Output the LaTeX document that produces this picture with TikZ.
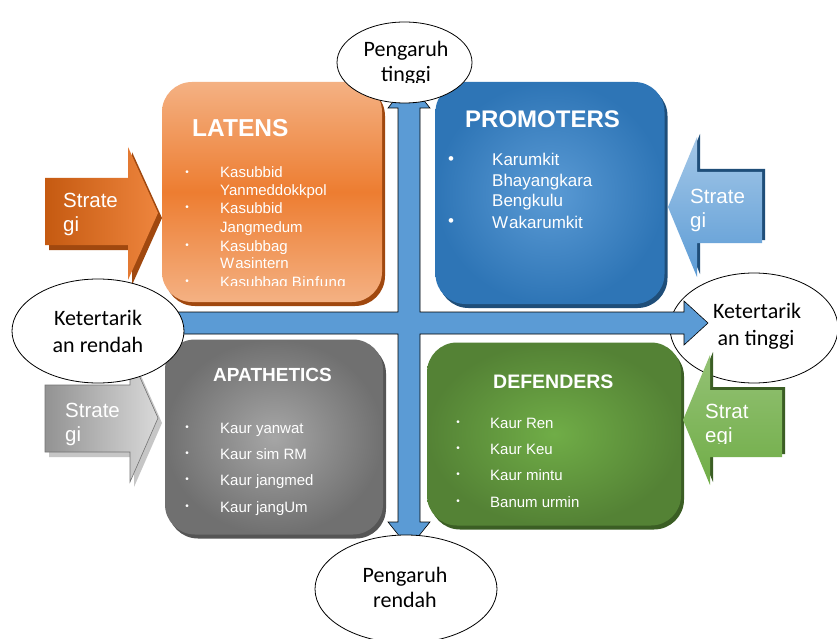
\documentclass[tikz,border=0pt]{standalone}
\usepackage{fontspec}
\setmainfont{Liberation Sans}
\newfontfamily\calib{Carlito}
\usetikzlibrary{shapes.geometric,shadows}
\definecolor{orM}{HTML}{ED7D31}
\definecolor{orL}{HTML}{F4B183}
\definecolor{orD}{HTML}{C55A11}
\definecolor{orS}{HTML}{A0480F}
\definecolor{blM}{HTML}{2E75B6}
\definecolor{blL}{HTML}{5B9BD5}
\definecolor{blS}{HTML}{1F4E79}
\definecolor{grM}{HTML}{707070}
\definecolor{grL}{HTML}{A6A6A6}
\definecolor{grS}{HTML}{555555}
\definecolor{gnM}{HTML}{548235}
\definecolor{gnL}{HTML}{70AD47}
\definecolor{gnS}{HTML}{3B5E24}
\definecolor{crossblue}{HTML}{5B9BD5}
\begin{document}
\begin{tikzpicture}[x=1pt,y=-1pt,
  quad/.style={rounded corners=30pt, inner sep=0pt},
  ttl/.style={text=white, anchor=base west, inner sep=0pt},
  itm/.style={text=white, anchor=base west, inner sep=0pt},
  bul/.style={text=white, inner sep=0pt},
  ell/.style={ellipse, draw=black, line width=0.8pt, fill=white, inner sep=0pt},
  etxt/.style={font=\calib\fontsize{22}{26}\selectfont, anchor=base, inner sep=0pt},
  stxt/.style={text=white, font=\fontsize{20.5}{24}\selectfont, anchor=base west, inner sep=0pt},
]
\path[use as bounding box, fill=white] (0,0) rectangle (837,639);

% ---- quadrant boxes ----
\node[quad, minimum width=220pt, minimum height=220pt, top color=orL, bottom color=orL, middle color=orM,
  drop shadow={shadow xshift=3pt, shadow yshift=-4pt, fill=orS, opacity=1}] (latens) at (272,192) {};
\node[quad, minimum width=229pt, minimum height=222pt, inner color=blL, outer color=blM,
  drop shadow={shadow xshift=3pt, shadow yshift=-4pt, fill=blS, opacity=1}] (promo) at (550,193) {};
\node[quad, minimum width=218pt, minimum height=195pt, inner color=grL, outer color=grM,
  drop shadow={shadow xshift=3pt, shadow yshift=-4pt, fill=grS, opacity=1}] (apath) at (274,437) {};
\node[quad, minimum width=254pt, minimum height=183pt, inner color=gnL, outer color=gnM,
  drop shadow={shadow xshift=3pt, shadow yshift=-4pt, fill=gnS, opacity=1}] (defend) at (554,434) {};

% ---- titles ----
\node[ttl, font=\bfseries\fontsize{24.5}{28}\selectfont] (tl) at (192,137) {LATENS};
\node[ttl, font=\bfseries\fontsize{24}{28}\selectfont] (tp) at (465,128) {PROMOTERS};
\node[ttl, font=\bfseries\fontsize{19}{22}\selectfont] (ta) at (213,381) {APATHETICS};
\node[ttl, font=\bfseries\fontsize{19.5}{22}\selectfont] (td) at (493,388) {DEFENDERS};

% ---- LATENS list ----
\begin{scope}[every node/.append style={font=\fontsize{15}{18}\selectfont}]
\clip (165,150) rectangle (380,285);
\node[itm] (l1) at (220,178) {Kasubbid};
\node[itm] (l2) at (220,195) {Yanmeddokkpol};
\node[itm] (l3) at (220,213) {Kasubbid};
\node[itm] (l4) at (220,232) {Jangmedum};
\node[itm] (l5) at (220,251) {Kasubbag};
\node[itm] (l6) at (220,268) {W\kern1pt asintern};
\node[itm] (l7) at (220,287) {Kasubbag B\kern0.5pt i\kern0.5pt n\kern0.5pt f\kern0.5pt u\kern0.5pt n\kern0.5pt g};
\node[bul, font=\fontsize{10}{10}\selectfont] (lb1) at (187,173) {•};
\node[bul, font=\fontsize{10}{10}\selectfont] (lb2) at (187,208) {•};
\node[bul, font=\fontsize{10}{10}\selectfont] (lb3) at (187,246) {•};
\node[bul, font=\fontsize{10}{10}\selectfont] (lb4) at (187,282) {•};
\end{scope}

% ---- PROMOTERS list ----
\begin{scope}[every node/.append style={font=\fontsize{17}{20}\selectfont}]
\node[itm] (p1) at (492,166) {Karumkit};
\node[itm] (p2) at (492,186) {Bhayangkara};
\node[itm] (p3) at (492,206) {Bengkulu};
\node[itm] (p4) at (492,228) {W\kern1pt akarumkit};
\node[bul] (pb1) at (451,161) {•};
\node[bul] (pb2) at (451,223) {•};
\end{scope}

% ---- APATHETICS list ----
\begin{scope}[every node/.append style={font=\fontsize{15}{18}\selectfont}]
\node[itm] (a1) at (220,433) {Kaur yanwat};
\node[itm] (a2) at (220,459) {Kaur sim RM};
\node[itm] (a3) at (220,485) {Kaur jangmed};
\node[itm] (a4) at (220,512) {Kaur jangUm};
\node[bul, font=\fontsize{10}{10}\selectfont] (ab1) at (187,428) {•};
\node[bul, font=\fontsize{10}{10}\selectfont] (ab2) at (187,454) {•};
\node[bul, font=\fontsize{10}{10}\selectfont] (ab3) at (187,480) {•};
\node[bul, font=\fontsize{10}{10}\selectfont] (ab4) at (187,507) {•};
\end{scope}

% ---- DEFENDERS list ----
\begin{scope}[every node/.append style={font=\fontsize{15}{18}\selectfont}]
\node[itm] (d1) at (490,428) {Kaur Ren};
\node[itm] (d2) at (490,454) {Kaur Keu};
\node[itm] (d3) at (490,480) {Kaur mintu};
\node[itm] (d4) at (490,507) {Banum urmin};
\node[bul, font=\fontsize{10}{10}\selectfont] (db1) at (458,423) {•};
\node[bul, font=\fontsize{10}{10}\selectfont] (db2) at (458,449) {•};
\node[bul, font=\fontsize{10}{10}\selectfont] (db3) at (458,475) {•};
\node[bul, font=\fontsize{10}{10}\selectfont] (db4) at (458,502) {•};
\end{scope}

% ---- right ellipse (under the cross) ----
\node[ell, minimum width=168pt, minimum height=110pt] (eR) at (754,328) {};
\node[etxt] (eRt1) at (757,318) {Ketertarik};
\node[etxt] (eRt2) at (756,345) {an tinggi};

% ---- cross (quad arrow) ----
\draw[fill=crossblue, draw=black, line width=0.6pt, line join=miter]
  (409,82) -- (430,108) -- (420,108) -- (420,312) -- (684,312) -- (684,301) -- (708,323)
  -- (684,345) -- (684,334) -- (420,334) -- (420,522) -- (430,522) -- (409,548)
  -- (388,522) -- (398,522) -- (398,334) -- (150,334) -- (150,345) -- (125,323)
  -- (150,301) -- (150,312) -- (398,312) -- (398,108) -- (388,108) -- cycle;

% ---- strategy arrows ----
% orange (left, pointing right)
\fill[orS, shift={(4,5)}] (45,178) -- (128,178) -- (128,147) -- (158,213) -- (128,280) -- (128,245) -- (45,245) -- cycle;
\shade[left color=orD, right color=orM!85!orL] (45,178) -- (128,178) -- (128,147) -- (158,213) -- (128,280) -- (128,245) -- (45,245) -- cycle;
\node[stxt] (s1a) at (63,207) {Strate};
\node[stxt] (s1b) at (63,231) {gi};
% blue (right, pointing left)
\fill[blS, shift={(3,-3)}] (762,172) -- (697,172) -- (697,137) -- (668,207) -- (697,277) -- (697,243) -- (762,243) -- cycle;
\shade[top color=blL!55!white, bottom color=blL] (762,172) -- (697,172) -- (697,137) -- (668,207) -- (697,277) -- (697,243) -- (762,243) -- cycle;
\node[stxt] (s2a) at (690,203) {Strate};
\node[stxt] (s2b) at (690,227) {gi};
% gray (left, pointing right)
\fill[gray!45, shift={(4,5)}] (45,385) -- (130,385) -- (130,355) -- (158,418) -- (130,482) -- (130,452) -- (45,452) -- cycle;
\shade[left color=gray!85, right color=gray!30, draw=gray!90!black, line width=0.6pt] (45,385) -- (130,385) -- (130,355) -- (158,418) -- (130,482) -- (130,452) -- (45,452) -- cycle;
\node[stxt] (s3a) at (65,417) {Strate};
\node[stxt] (s3b) at (65,441) {gi};
% green (right, pointing left)
\fill[gnS, shift={(3,-3)}] (782,390) -- (710,390) -- (710,355) -- (683,420) -- (710,485) -- (710,457) -- (782,457) -- cycle;
\shade[top color=gnL!75!white, bottom color=gnL] (782,390) -- (710,390) -- (710,355) -- (683,420) -- (710,485) -- (710,457) -- (782,457) -- cycle;
\begin{scope}
\clip (700,380) rectangle (790,443);
\node[stxt] (s4a) at (705,418) {Strat};
\node[stxt] (s4b) at (705,442) {egi};
\end{scope}

% ---- ellipses ----
\node[ell, minimum width=135pt, minimum height=81pt] (eT) at (404.5,62.5) {};
\begin{scope}
\clip (330,20) rectangle (480,83);
\node[etxt] (eTt1) at (406,57) {Pengaruh};
\node[etxt] (eTt2) at (406,82) {tinggi};
\end{scope}
\node[ell, minimum width=182pt, minimum height=108pt] (eB) at (406,589) {};
\node[etxt] (eBt1) at (405,582) {Pengaruh};
\node[etxt] (eBt2) at (405,607) {rendah};
\node[ell, minimum width=172pt, minimum height=104pt] (eL) at (98,331) {};
\node[etxt] (eLt1) at (98,325) {Ketertarik};
\node[etxt] (eLt2) at (98,352) {an rendah};
\end{tikzpicture}
\end{document}
